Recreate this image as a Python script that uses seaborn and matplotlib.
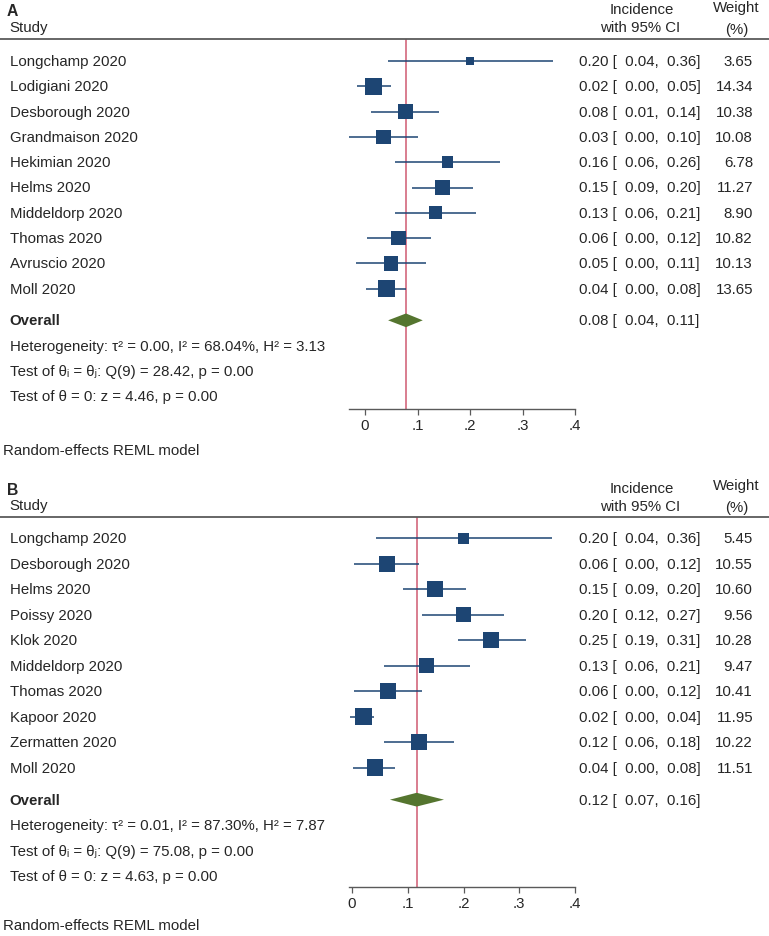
import numpy as np
import pandas as pd
import matplotlib.pyplot as plt
import matplotlib.transforms as mtransforms
from matplotlib.lines import Line2D
import seaborn as sns

# ---- Panel A data ----
a_studies = ['Longchamp 2020', 'Lodigiani 2020', 'Desborough 2020', 'Grandmaison 2020',
             'Hekimian 2020', 'Helms 2020', 'Middeldorp 2020', 'Thomas 2020',
             'Avruscio 2020', 'Moll 2020']
a_est = [0.20, 0.017, 0.077, 0.035, 0.157, 0.148, 0.134, 0.064, 0.050, 0.041]
a_lo = [0.043, -0.015, 0.012, -0.030, 0.058, 0.090, 0.057, 0.004, -0.017, 0.002]
a_hi = [0.358, 0.050, 0.141, 0.100, 0.258, 0.205, 0.211, 0.125, 0.116, 0.078]
a_ci_text = ['0.20 [  0.04,  0.36]', '0.02 [  0.00,  0.05]', '0.08 [  0.01,  0.14]',
             '0.03 [  0.00,  0.10]', '0.16 [  0.06,  0.26]', '0.15 [  0.09,  0.20]',
             '0.13 [  0.06,  0.21]', '0.06 [  0.00,  0.12]', '0.05 [  0.00,  0.11]',
             '0.04 [  0.00,  0.08]']
a_weight = [3.65, 14.34, 10.38, 10.08, 6.78, 11.27, 8.90, 10.82, 10.13, 13.65]
a_overall = (0.078, 0.044, 0.110)
a_overall_text = '0.08 [  0.04,  0.11]'
a_stats = ['Heterogeneity: τ² = 0.00, I² = 68.04%, H² = 3.13',
           'Test of θᵢ = θⱼ: Q(9) = 28.42, p = 0.00',
           'Test of θ = 0: z = 4.46, p = 0.00']

# ---- Panel B data ----
b_studies = ['Longchamp 2020', 'Desborough 2020', 'Helms 2020', 'Poissy 2020',
             'Klok 2020', 'Middeldorp 2020', 'Thomas 2020', 'Kapoor 2020',
             'Zermatten 2020', 'Moll 2020']
b_est = [0.20, 0.062, 0.148, 0.20, 0.25, 0.134, 0.064, 0.020, 0.120, 0.041]
b_lo = [0.043, 0.004, 0.091, 0.125, 0.190, 0.057, 0.004, -0.004, 0.058, 0.002]
b_hi = [0.358, 0.120, 0.204, 0.272, 0.312, 0.211, 0.125, 0.040, 0.183, 0.078]
b_ci_text = ['0.20 [  0.04,  0.36]', '0.06 [  0.00,  0.12]', '0.15 [  0.09,  0.20]',
             '0.20 [  0.12,  0.27]', '0.25 [  0.19,  0.31]', '0.13 [  0.06,  0.21]',
             '0.06 [  0.00,  0.12]', '0.02 [  0.00,  0.04]', '0.12 [  0.06,  0.18]',
             '0.04 [  0.00,  0.08]']
b_weight = [5.45, 10.55, 10.60, 9.56, 10.28, 9.47, 10.41, 11.95, 10.22, 11.51]
b_overall = (0.116, 0.068, 0.165)
b_overall_text = '0.12 [  0.07,  0.16]'
b_stats = ['Heterogeneity: τ² = 0.01, I² = 87.30%, H² = 7.87',
           'Test of θᵢ = θⱼ: Q(9) = 75.08, p = 0.00',
           'Test of θ = 0: z = 4.63, p = 0.00']

ticks = [0, 0.1, 0.2, 0.3, 0.4]
tick_labels = ['0', '.1', '.2', '.3', '.4']

sns.set_style('white')
plt.rcParams['font.family'] = ['Liberation Sans', 'DejaVu Sans']
FS = 10.8

NAVY = '#1d4573'
GREEN = '#55752f'
REDL = '#d05a72'
GRAY = '#5a5a5a'

W, H = 769, 937
fig = plt.figure(figsize=(W / 100, H / 100), dpi=100)


def fy(px):
    return 1 - px / H


def panel(letter, studies, est, lo, hi, ci_text, weight, overall, overall_text,
          stats, xmin, header_px, first_px, spacing, axis_px, note_px):
    y0 = (header_px - first_px) / spacing
    y1 = (axis_px - first_px) / spacing
    ax = fig.add_axes([349 / W, fy(axis_px), 226 / W, (axis_px - header_px) / H])
    ax.set_xlim(xmin, 0.4)
    ax.set_ylim(y1, y0)

    rows = np.arange(len(studies))
    df = pd.DataFrame({'study': studies, 'est': est, 'lo': lo, 'hi': hi,
                       'weight': weight, 'row': rows})

    ax.axvline(overall[0], color=REDL, lw=1.1, zorder=1)
    ax.hlines(df['row'], df['lo'], df['hi'], color=NAVY, lw=1.1, zorder=2)
    # square area proportional to weight, largest ~17 px wide
    wmax = max(weight)
    k = (17 * 0.72) ** 2 / wmax
    sns.scatterplot(data=df, x='est', y='row', size='weight',
                    sizes=(k * min(weight), k * wmax), marker='s', color=NAVY,
                    edgecolor='none', legend=False, ax=ax, zorder=3)

    r_over = 10.25
    dh = 0.27
    ax.fill([overall[1], overall[0], overall[2], overall[0]],
            [r_over, r_over - dh, r_over, r_over + dh], color=GREEN, lw=0, zorder=3)

    for s in ['top', 'right', 'left']:
        ax.spines[s].set_visible(False)
    ax.spines['bottom'].set_color(GRAY)
    ax.spines['bottom'].set_linewidth(1.0)
    ax.set_xticks(ticks)
    ax.set_xticklabels(tick_labels, fontsize=FS)
    ax.tick_params(axis='x', direction='out', length=4, width=0.9, color=GRAY,
                   pad=3, bottom=True)
    ax.set_yticks([])
    ax.set_xlabel('')
    ax.set_ylabel('')
    ax.patch.set_alpha(0)

    tr = mtransforms.blended_transform_factory(fig.transFigure, ax.transData)
    for i, name in enumerate(studies):
        ax.text(9.5 / W, i, name, transform=tr, ha='left', va='center', fontsize=FS)
        ax.text(579 / W, i, ci_text[i], transform=tr, ha='left', va='center', fontsize=FS)
        ax.text(753 / W, i, f'{weight[i]:.2f}', transform=tr, ha='right', va='center',
                fontsize=FS)
    ax.text(9.5 / W, r_over, 'Overall', transform=tr, ha='left', va='center',
            fontsize=FS, fontweight='bold')
    ax.text(579 / W, r_over, overall_text, transform=tr, ha='left', va='center',
            fontsize=FS)
    for j, line in enumerate(stats):
        ax.text(9.5 / W, r_over + 1 + j, line, transform=tr, ha='left', va='center',
                fontsize=FS)

    off = header_px - 39.5
    fig.text(7 / W, fy(12 + off), letter, ha='left', va='center', fontsize=FS + 0.5,
             fontweight='bold')
    fig.text(9.5 / W, fy(28 + off), 'Study', ha='left', va='center', fontsize=FS)
    fig.text(642 / W, fy(10.5 + off), 'Incidence', ha='center', va='center', fontsize=FS)
    fig.text(640 / W, fy(28.5 + off), 'with 95% CI', ha='center', va='center', fontsize=FS)
    fig.text(736 / W, fy(8 + off), 'Weight', ha='center', va='center', fontsize=FS)
    fig.text(737 / W, fy(30 + off), '(%)', ha='center', va='center', fontsize=FS)
    fig.add_artist(Line2D([0, 1], [fy(header_px), fy(header_px)],
                          transform=fig.transFigure, color=GRAY, lw=1.3))
    fig.text(3 / W, fy(note_px), 'Random-effects REML model', ha='left', va='center',
             fontsize=FS)


panel('A', a_studies, a_est, a_lo, a_hi, a_ci_text, a_weight, a_overall,
      a_overall_text, a_stats, -0.0305, 39.5, 62.0, 25.3, 409.5, 451.5)
panel('B', b_studies, b_est, b_lo, b_hi, b_ci_text, b_weight, b_overall,
      b_overall_text, b_stats, -0.0054, 517.7, 539.3, 25.5, 887.7, 926.5)

fig.savefig('out.png', dpi=100, facecolor='white')
